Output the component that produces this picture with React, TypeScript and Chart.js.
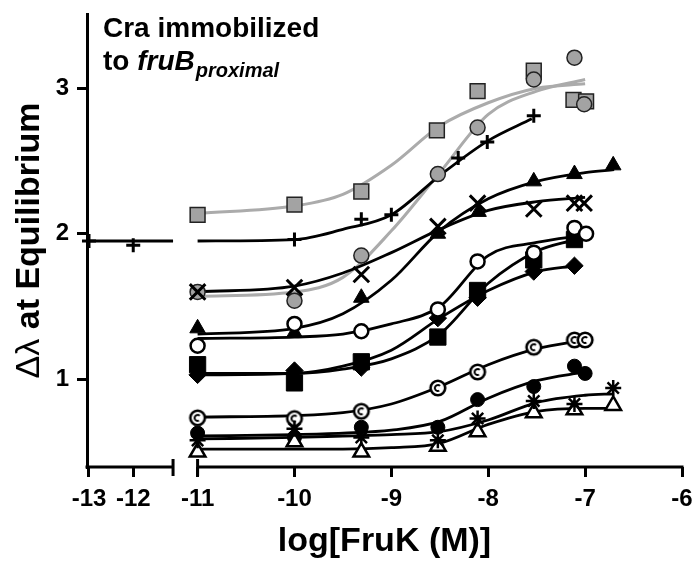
import { useEffect, useRef } from "react"
import { Chart, registerables } from "chart.js"

Chart.register(...registerables)

const FONT = "'Liberation Sans', Arial, Helvetica, sans-serif"

// axis ticks (broken x axis: left stub for the no-FruK controls)
const leftTicks = [-13, -12]
const rightTicks = [-11, -10, -9, -8, -7, -6]
const yTicks = [1, 2, 3]

// ---- measured points, log[FruK (M)] vs delta lambda ----
const graySqX = [-11, -10, -9.31, -8.53, -8.11, -7.53, -7.12, -6.99]
const graySqY = [2.13, 2.2, 2.29, 2.71, 2.98, 3.12, 2.92, 2.91]
const grayCircX = [-11, -10, -9.31, -8.52, -8.11, -7.53, -7.11, -7.01]
const grayCircY = [1.6, 1.54, 1.85, 2.41, 2.73, 3.06, 3.21, 2.89]
const plusLeftX = [-13, -12]
const plusLeftY = [1.95, 1.92]
const plusX = [-10, -9.31, -9.0, -8.31, -8.01, -7.53]
const plusY = [1.96, 2.1, 2.13, 2.52, 2.63, 2.81]
const triX = [-11, -10, -9.31, -8.52, -8.1, -7.53, -7.11, -6.71]
const triY = [1.35, 1.32, 1.56, 2.0, 2.15, 2.36, 2.41, 2.47]
const crossX = [-11, -10, -9.31, -8.52, -8.11, -7.53, -7.11, -7.01]
const crossY = [1.6, 1.63, 1.72, 2.05, 2.21, 2.17, 2.21, 2.21]
const openCircX = [-11, -10, -9.31, -8.52, -8.11, -7.53, -7.11, -6.99]
const openCircY = [1.23, 1.38, 1.33, 1.48, 1.81, 1.87, 2.04, 2.0]
const sqX = [-11, -10, -9.31, -8.52, -8.11, -7.53, -7.11]
const sqY = [1.1, 0.975, 1.12, 1.29, 1.61, 1.82, 1.96]
const diaX = [-11, -10, -9.31, -8.52, -8.11, -7.53, -7.11]
const diaY = [1.03, 1.06, 1.08, 1.42, 1.56, 1.74, 1.78]
const ringX = [-11, -10, -9.31, -8.52, -8.11, -7.53, -7.11, -7.0]
const ringY = [0.735, 0.73, 0.78, 0.94, 1.05, 1.22, 1.27, 1.27]
const dotX = [-11, -10, -9.31, -8.52, -8.11, -7.53, -7.11, -7.0]
const dotY = [0.63, 0.6, 0.67, 0.67, 0.86, 0.95, 1.09, 1.04]
const starX = [-11, -10, -9.31, -8.52, -8.11, -7.53, -7.11, -6.71]
const starY = [0.58, 0.66, 0.6, 0.58, 0.73, 0.85, 0.83, 0.94]
const openTriX = [-11, -10, -9.31, -8.52, -8.11, -7.53, -7.11, -6.71]
const openTriY = [0.5, 0.57, 0.5, 0.54, 0.64, 0.77, 0.79, 0.82]

// ---- fitted curves ----
const fitX = [-11, -10, -9.5, -9, -8.5, -8, -7.5, -7]
const fitXLong = [-11, -10, -9.5, -9, -8.5, -8, -7.5, -7, -6.7]
const fitXShort = [-11, -10, -9.5, -9, -8.5, -8, -7.5, -7.1]
const fitXPlus = [-11, -10, -9.5, -9, -8.5, -8, -7.55]
const fitXPlusLeft = [-13.05, -11.1]
const graySqFit = [2.14, 2.19, 2.27, 2.47, 2.74, 2.9, 3.0, 3.03]
const grayCircFit = [1.57, 1.6, 1.7, 2.02, 2.42, 2.82, 2.98, 3.06]
const plusFit = [1.95, 1.96, 2.03, 2.13, 2.4, 2.64, 2.79]
const plusLeftFit = [1.95, 1.95]
const triFit = [1.31, 1.35, 1.45, 1.68, 2.02, 2.24, 2.36, 2.42, 2.44]
const crossFit = [1.6, 1.64, 1.73, 1.87, 2.03, 2.16, 2.22, 2.25]
const openCircFit = [1.28, 1.29, 1.31, 1.38, 1.5, 1.85, 1.94, 1.99]
const sqFit = [1.04, 1.04, 1.07, 1.14, 1.31, 1.66, 1.88, 1.96]
const diaFit = [1.03, 1.04, 1.09, 1.2, 1.42, 1.61, 1.74, 1.78]
const ringFit = [0.74, 0.75, 0.77, 0.83, 0.95, 1.1, 1.21, 1.27]
const dotFit = [0.61, 0.62, 0.63, 0.65, 0.71, 0.87, 0.99, 1.05]
const starFit = [0.59, 0.6, 0.61, 0.62, 0.64, 0.72, 0.84, 0.89, 0.9]
const openTriFit = [0.52, 0.52, 0.52, 0.53, 0.56, 0.69, 0.78, 0.8, 0.8]

const LEFT_BREAK = -11.1
const RIGHT_START = -11

const pts = (xs: number[], ys: number[]) => xs.map((x, i) => ({ x, y: ys[i] }))

function makeRing() {
  const c = document.createElement("canvas")
  c.width = 20
  c.height = 20
  const g = c.getContext("2d")!
  g.strokeStyle = "#000"
  g.fillStyle = "#fff"
  g.lineWidth = 2.6
  g.beginPath()
  g.arc(10, 10, 7.3, 0, Math.PI * 2)
  g.fill()
  g.stroke()
  g.lineWidth = 2
  g.beginPath()
  g.arc(10, 10, 3, Math.PI * 0.35, Math.PI * 1.75)
  g.stroke()
  return c
}

function marker(xs: number[], ys: number[], style: any, axis = "xR") {
  return {
    data: pts(xs, ys),
    xAxisID: axis,
    yAxisID: "y",
    showLine: false,
    clip: false,
    pointBorderColor: "#000",
    pointBorderWidth: 2.5,
    pointBackgroundColor: "#000",
    ...style,
  }
}

function curve(xs: number[], ys: number[], color = "#000", axis = "xR") {
  return {
    data: pts(xs, ys),
    xAxisID: axis,
    yAxisID: "y",
    showLine: true,
    pointRadius: 0,
    borderColor: color,
    borderWidth: color === "#000" ? 2.8 : 3,
    cubicInterpolationMode: "monotone",
    fill: false,
  }
}

const decorations = {
  id: "decorations",
  beforeDatasetsDraw(chart: any) {
    const { ctx, scales, chartArea } = chart
    const xL = scales.xL
    const xR = scales.xR
    const yb = chartArea.bottom
    const l0 = xL.getPixelForValue(xL.min) - 1.5
    const l1 = xL.getPixelForValue(LEFT_BREAK)
    const r0 = xR.getPixelForValue(RIGHT_START)
    const r1 = xR.getPixelForValue(xR.max) + 1.5
    ctx.save()
    ctx.strokeStyle = "#000"
    ctx.lineWidth = 3
    ctx.beginPath()
    ctx.moveTo(l0, yb)
    ctx.lineTo(l1, yb)
    ctx.moveTo(r0, yb)
    ctx.lineTo(r1, yb)
    ctx.moveTo(l1, yb - 8)
    ctx.lineTo(l1, yb + 9)
    ctx.moveTo(r0, yb - 8)
    ctx.lineTo(r0, yb + 9)
    ctx.stroke()
    ctx.restore()
  },
  afterDraw(chart: any) {
    const { ctx, chartArea } = chart
    ctx.save()
    ctx.fillStyle = "#000"
    ctx.textBaseline = "alphabetic"
    ctx.textAlign = "left"
    ctx.font = `bold 28px ${FONT}`
    ctx.fillText("Cra immobilized", 103, 37)
    let x = 103
    ctx.fillText("to ", x, 70)
    x += ctx.measureText("to ").width
    ctx.font = `italic bold 28px ${FONT}`
    ctx.fillText("fruB", x, 70)
    x += ctx.measureText("fruB").width + 1
    ctx.font = `italic bold 20px ${FONT}`
    ctx.fillText("proximal", x, 77)

    // x title
    ctx.textAlign = "center"
    ctx.font = `bold 34px ${FONT}`
    ctx.fillText("log[FruK (M)]", (chartArea.left + chartArea.right) / 2, 551)

    // y title
    const parts = [
      { t: "Δλ", f: `34px ${FONT}` },
      { t: " at Equilibrium", f: `bold 34px ${FONT}` },
    ]
    let total = 0
    for (const p of parts) {
      ctx.font = p.f
      total += ctx.measureText(p.t).width
    }
    ctx.translate(39, (chartArea.top + chartArea.bottom) / 2)
    ctx.rotate(-Math.PI / 2)
    ctx.textAlign = "left"
    let px = -total / 2
    for (const p of parts) {
      ctx.font = p.f
      ctx.fillText(p.t, px, 0)
      px += ctx.measureText(p.t).width
    }
    ctx.restore()
  },
}

export default function App() {
  const canvasRef = useRef<HTMLCanvasElement>(null)
  const chartRef = useRef<Chart | null>(null)

  useEffect(() => {
    if (!canvasRef.current) return
    const ctx = canvasRef.current.getContext("2d")
    if (!ctx) return
    if (chartRef.current) chartRef.current.destroy()

    const ring = makeRing()
    const gray = "#a3a3a3"
    const grayLine = "#ababab"
    const tickFont = { family: FONT, size: 24, weight: "bold" as const }
    const tickGrid = { drawOnChartArea: false, drawTicks: true, tickLength: 10, lineWidth: 3, color: "#000" }

    const datasets: any[] = [
      marker(crossX, crossY, { pointStyle: "crossRot", pointRadius: 11, pointBorderWidth: 3 }),
      marker(plusX, plusY, { pointStyle: "cross", pointRadius: 7, pointBorderWidth: 3 }),
      marker(plusLeftX, plusLeftY, { pointStyle: "cross", pointRadius: 7, pointBorderWidth: 3 }, "xL"),
      marker(starX, starY, { pointStyle: "star", pointRadius: 8, pointBorderWidth: 2.5 }),
      marker(openTriX, openTriY, { pointStyle: "triangle", pointRadius: 9, pointBackgroundColor: "#fff" }),
      marker(dotX, dotY, { pointStyle: "circle", pointRadius: 7, pointBorderWidth: 1 }),
      marker(ringX, ringY, { pointStyle: ring, pointRadius: 9 }),
      marker(openCircX, openCircY, { pointStyle: "circle", pointRadius: 7, pointBackgroundColor: "#fff" }),
      marker(diaX, diaY, { pointStyle: "rectRot", pointRadius: 8.7, pointBorderWidth: 1 }),
      marker(sqX, sqY, { pointStyle: "rect", pointRadius: 11.5, pointBorderWidth: 1 }),
      marker(triX, triY, { pointStyle: "triangle", pointRadius: 9, pointBorderWidth: 1 }),
      marker(grayCircX, grayCircY, { pointStyle: "circle", pointRadius: 7.5, pointBackgroundColor: gray, pointBorderColor: "#222", pointBorderWidth: 1.5 }),
      marker(graySqX, graySqY, { pointStyle: "rect", pointRadius: 10.5, pointBackgroundColor: gray, pointBorderColor: "#222", pointBorderWidth: 1.5 }),
      curve(fitXPlus, plusFit),
      curve(fitXPlusLeft, plusLeftFit, "#000", "xL"),
      curve(fitXLong, triFit),
      curve(fitX, crossFit),
      curve(fitX, openCircFit),
      curve(fitXShort, sqFit),
      curve(fitXShort, diaFit),
      curve(fitX, ringFit),
      curve(fitX, dotFit),
      curve(fitXLong, starFit),
      curve(fitXLong, openTriFit),
      curve(fitX, graySqFit, grayLine),
      curve(fitX, grayCircFit, grayLine),
    ]

    chartRef.current = new Chart(ctx, {
      type: "scatter",
      data: { datasets },
      plugins: [decorations],
      options: {
        animation: false,
        responsive: false,
        layout: { padding: { top: 7, right: 18, bottom: 0, left: 0 } },
        plugins: {
          legend: { display: false },
          tooltip: { enabled: false },
        },
        scales: {
          xL: {
            type: "linear",
            position: "bottom",
            stack: "x",
            stackWeight: 98,
            min: -13.045,
            max: -10.83,
            border: { display: false },
            grid: tickGrid,
            ticks: { color: "#000", font: tickFont, padding: 8, autoSkip: false, maxRotation: 0, callback: (v: any) => String(v) },
            afterBuildTicks: (s: any) => {
              s.ticks = leftTicks.map((v) => ({ value: v }))
            },
            afterFit: (s: any) => {
              s.height = 100
              s.paddingLeft = 0
              s.paddingRight = 0
            },
          },
          xR: {
            type: "linear",
            position: "bottom",
            stack: "x",
            stackWeight: 497,
            min: -11.13,
            max: -6,
            border: { display: false },
            grid: tickGrid,
            ticks: { color: "#000", font: tickFont, padding: 8, autoSkip: false, maxRotation: 0, callback: (v: any) => String(v) },
            afterBuildTicks: (s: any) => {
              s.ticks = rightTicks.map((v) => ({ value: v }))
            },
            afterFit: (s: any) => {
              s.height = 100
              s.paddingLeft = 0
              s.paddingRight = 0
            },
          },
          y: {
            type: "linear",
            position: "left",
            min: 0.397,
            max: 3.51,
            border: { display: true, color: "#000", width: 3 },
            grid: tickGrid,
            ticks: { color: "#000", font: tickFont, padding: 8, callback: (v: any) => String(v) },
            afterBuildTicks: (s: any) => {
              s.ticks = yTicks.map((v) => ({ value: v }))
            },
            afterFit: (s: any) => {
              s.width = 87
              s.paddingTop = 0
              s.paddingBottom = 0
            },
          },
        },
      } as any,
    })

    return () => {
      if (chartRef.current) {
        chartRef.current.destroy()
        chartRef.current = null
      }
    }
  }, [])

  return (
    <div style={{ position: "absolute", left: 0, top: 0, width: 700, height: 567, background: "#fff" }}>
      <canvas ref={canvasRef} width={700} height={567}></canvas>
    </div>
  )
}
